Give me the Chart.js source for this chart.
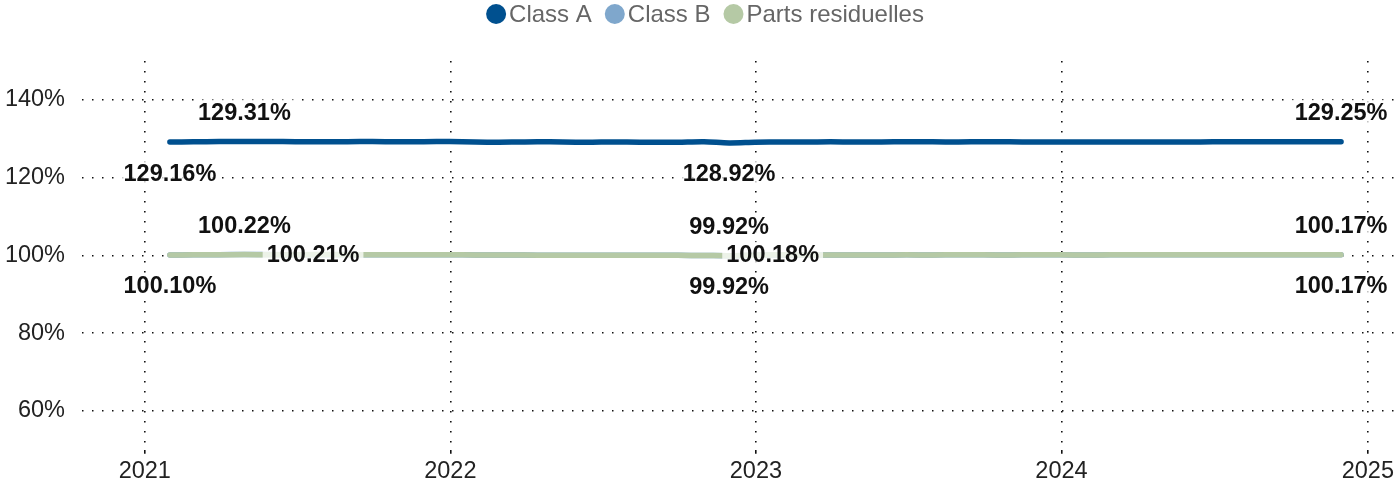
<!DOCTYPE html>
<html>
<head>
<meta charset="utf-8">
<script src="https://cdn.jsdelivr.net/npm/chart.js@4/dist/chart.umd.min.js"></script>
<style>
  html, body { margin: 0; padding: 0; background: #fff; }
  #wrap { width: 1398px; height: 490px; }
</style>
</head>
<body>
<div id="wrap"><canvas id="mycanvas"></canvas></div>
<script>
var dates = [
  '2021-01-31','2021-02-28','2021-03-31','2021-04-30','2021-05-31','2021-06-30','2021-07-21','2021-08-31','2021-09-30','2021-10-31','2021-11-30','2021-12-31',
  '2022-01-31','2022-02-28','2022-03-31','2022-04-30','2022-05-31','2022-06-30','2022-07-31','2022-08-31','2022-09-30','2022-10-31','2022-11-30','2022-12-31',
  '2023-01-21','2023-02-28','2023-03-31','2023-04-30','2023-05-31','2023-06-30','2023-07-31','2023-08-31','2023-09-30','2023-10-31','2023-11-30','2023-12-31',
  '2024-01-31','2024-02-29','2024-03-31','2024-04-30','2024-05-31','2024-06-30','2024-07-31','2024-08-31','2024-09-30','2024-10-31','2024-11-30'
];

var classA = [
  129.16,129.22,129.27,129.31,129.28,129.25,129.24,129.26,129.27,129.25,129.26,129.27,
  129.15,129.12,129.18,129.20,129.10,129.14,129.17,129.08,129.12,129.24,128.92,129.10,
  129.14,129.18,129.20,129.16,129.19,129.22,129.21,129.19,129.22,129.20,129.18,129.17,
  129.15,129.17,129.16,129.14,129.18,129.20,129.22,129.21,129.23,129.24,129.25
];

var classB = [
  100.10,100.15,100.19,100.22,100.20,100.18,100.19,100.20,100.18,100.17,100.18,100.16,
  100.12,100.10,100.08,100.06,100.05,100.07,100.04,100.02,100.01,99.98,99.92,100.05,
  100.10,100.12,100.11,100.13,100.12,100.14,100.13,100.15,100.14,100.13,100.15,100.14,
  100.13,100.14,100.15,100.14,100.16,100.15,100.16,100.17,100.16,100.17,100.17
];

var partsResiduelles = [
  100.08,100.14,100.18,100.20,100.19,100.18,100.21,100.19,100.18,100.17,100.18,100.16,
  100.12,100.10,100.08,100.06,100.05,100.07,100.04,100.02,100.01,99.98,99.92,100.06,
  100.18,100.13,100.12,100.13,100.12,100.14,100.13,100.15,100.14,100.13,100.15,100.14,
  100.13,100.14,100.15,100.14,100.16,100.15,100.16,100.17,100.16,100.17,100.17
];

var seriesNames = ['Class A', 'Class B', 'Parts residuelles'];
var seriesColors = ['#00508f', '#7fa7cc', '#b5c9a5'];
var yearTicks = [2021, 2022, 2023, 2024, 2025];
var percentTicks = [60, 80, 100, 120, 140];

// which points get a value label, and where
var pointLabels = [
  {ds: 0, i: 0, pos: 'below'}, {ds: 0, i: 3, pos: 'above'}, {ds: 0, i: 22, pos: 'below'}, {ds: 0, i: 46, pos: 'above'},
  {ds: 1, i: 0, pos: 'below'}, {ds: 1, i: 3, pos: 'above'}, {ds: 1, i: 22, pos: 'below'}, {ds: 1, i: 46, pos: 'below'},
  {ds: 2, i: 6, pos: 'center'}, {ds: 2, i: 24, pos: 'center'}, {ds: 2, i: 22, pos: 'above'}, {ds: 2, i: 46, pos: 'above'}
];

var FONT = '"Liberation Sans", Arial, sans-serif';

function toPoints(vals) {
  var pts = [];
  for (var k in vals) {
    var p = dates[k].split('-');
    pts.push({x: Date.UTC(+p[0], +p[1] - 1, +p[2]), y: vals[k]});
  }
  return pts;
}

var labelPlugin = {
  id: 'pointLabels',
  afterDatasetsDraw: function(chart) {
    var ctx = chart.ctx;
    ctx.save();
    ctx.font = 'bold 23.5px ' + FONT;
    ctx.textAlign = 'center';
    ctx.textBaseline = 'middle';
    pointLabels.forEach(function(l) {
      var el = chart.getDatasetMeta(l.ds).data[l.i];
      var v = chart.data.datasets[l.ds].data[l.i].y;
      var txt = v.toFixed(2) + '%';
      var x = el.x, y = el.y;
      if (l.pos == 'above') y -= 29;
      if (l.pos == 'below') y += 31;
      var w = ctx.measureText(txt).width;
      ctx.fillStyle = 'rgba(255,255,255,0.75)';
      ctx.fillRect(x - w / 2 - 4, y - 13, w + 8, 26);
      ctx.fillStyle = '#111';
      ctx.fillText(txt, x, y + 1);
    });
    ctx.restore();
  }
};

// simple legend at the top: circle + text, tightly spaced
var legendPlugin = {
  id: 'topLegend',
  afterDraw: function(chart) {
    var ctx = chart.ctx;
    ctx.save();
    ctx.font = '24px ' + FONT;
    ctx.textBaseline = 'middle';
    ctx.textAlign = 'left';
    var r = 10, gapIn = 3, gapOut = 13;
    var total = 0;
    chart.data.datasets.forEach(function(d, k) {
      total += 2 * r + gapIn + ctx.measureText(d.label).width;
      if (k > 0) total += gapOut;
    });
    var x = chart.width / 2 - total / 2 + 6;
    var y = 14;
    chart.data.datasets.forEach(function(d) {
      ctx.fillStyle = d.borderColor;
      ctx.beginPath();
      ctx.arc(x + r, y, r, 0, Math.PI * 2);
      ctx.fill();
      x += 2 * r + gapIn;
      ctx.fillStyle = '#666';
      ctx.fillText(d.label, x, y + 1);
      x += ctx.measureText(d.label).width + gapOut;
    });
    ctx.restore();
  }
};

var gridStyle = {
  color: '#111',
  lineWidth: 1.6,
  tickLength: 0
};

var chartdata = {
  datasets: [
    { label: seriesNames[0], data: toPoints(classA), borderColor: seriesColors[0], backgroundColor: seriesColors[0], order: 0 },
    { label: seriesNames[1], data: toPoints(classB), borderColor: seriesColors[1], backgroundColor: seriesColors[1], order: 2 },
    { label: seriesNames[2], data: toPoints(partsResiduelles), borderColor: seriesColors[2], backgroundColor: seriesColors[2], order: 1 }
  ]
};

var ctx = document.getElementById('mycanvas');

var lineGraph = new Chart(ctx, {
  type: 'line',
  data: chartdata,
  plugins: [labelPlugin, legendPlugin],
  options: {
    responsive: true,
    maintainAspectRatio: false,
    animation: false,
    layout: { padding: { top: 61, right: 0, left: 0, bottom: 0 } },
    elements: {
      point: { radius: 0 },
      line: { borderWidth: 5.5, tension: 0.3, borderCapStyle: 'round', borderJoinStyle: 'round' }
    },
    plugins: {
      tooltip: { enabled: false },
      legend: { display: false }
    },
    scales: {
      x: {
        type: 'linear',
        min: Date.UTC(2020, 9, 18),
        max: Date.UTC(2025, 1, 2),
        afterBuildTicks: function(axis) {
          axis.ticks = yearTicks.map(function(y) { return {value: Date.UTC(y, 0, 1)}; });
        },
        ticks: {
          color: '#222',
          font: { size: 23.5, family: FONT },
          padding: 4,
          maxRotation: 0,
          callback: function(v) { return new Date(v).getUTCFullYear(); }
        },
        grid: Object.assign({}, gridStyle, { tickLength: 4 }),
        border: { display: false, dash: [1.5, 8.5] }
      },
      y: {
        min: 50,
        max: 150,
        afterBuildTicks: function(axis) {
          axis.ticks = percentTicks.map(function(v) { return {value: v}; });
        },
        afterFit: function(axis) { axis.width = 82; },
        ticks: {
          color: '#222',
          font: { size: 23.5, family: FONT },
          padding: 17,
          callback: function(v) { return v + '%'; }
        },
        grid: gridStyle,
        border: { display: false, dash: [1.5, 8.5] }
      }
    }
  }
});
</script>
</body>
</html>
